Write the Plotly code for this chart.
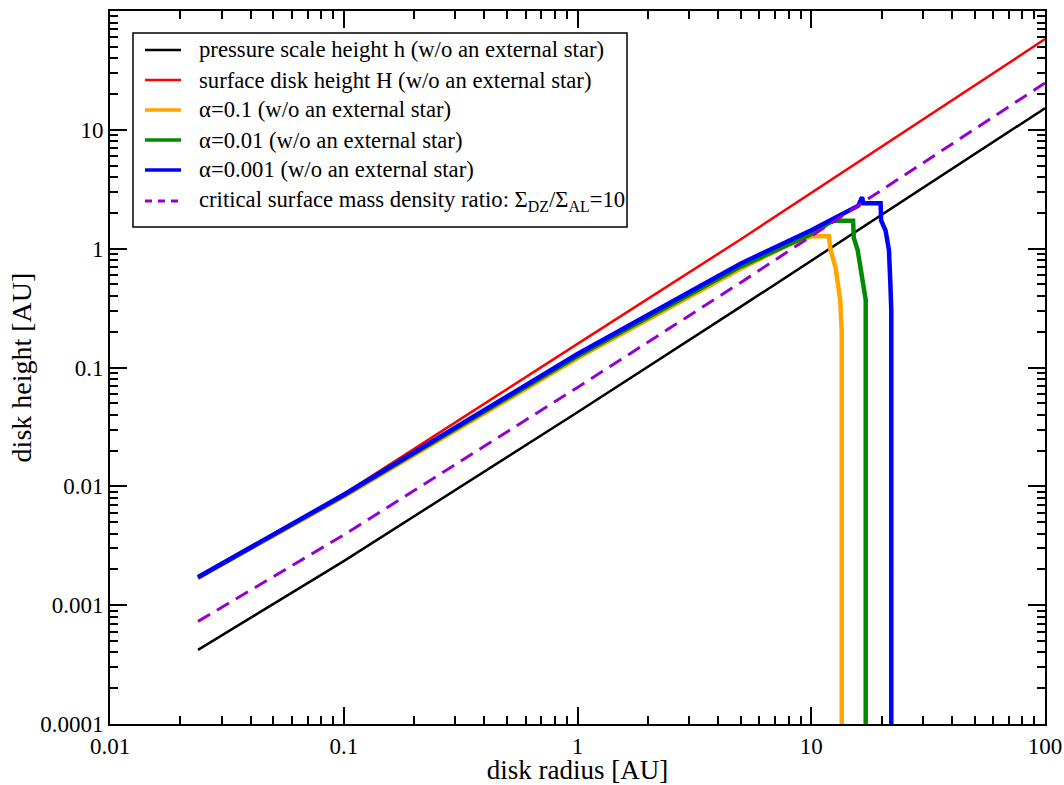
import plotly.graph_objects as go

# values (AU)
r_h = [0.0238, 0.1, 1.0, 5.0, 100]
h = [4.2e-4, 2.35e-3, 0.042, 0.325, 15.2]

r_H = [0.0238, 0.1, 1.0, 5.0, 100]
H_surf = [1.68e-3, 8.6e-3, 0.158, 1.2, 58]

r_crit = [0.0238, 0.1, 1.0, 5.0, 100]
crit = [7.3e-4, 3.9e-3, 0.068, 0.52, 24.8]

r_a1 = [0.0238, 0.1, 1.0, 5.0, 8.0, 10.0, 11.9, 12.1, 12.7, 13.3, 13.5, 13.5]
h_a1 = [1.7e-3, 8.2e-3, 0.12, 0.68, 1.08, 1.27, 1.27, 0.97, 0.70, 0.37, 0.2, 5e-5]

r_a2 = [0.0238, 0.1, 1.0, 5.0, 10.0, 12.4, 15.1, 15.2, 15.8, 16.7, 17.1, 17.1]
h_a2 = [1.72e-3, 8.4e-3, 0.125, 0.71, 1.33, 1.72, 1.72, 1.24, 0.97, 0.51, 0.37, 5e-5]

r_a3 = [0.0238, 0.1, 1.0, 5.0, 10.0, 12.4, 15.2, 15.9, 16.5, 16.7, 19.8, 19.9, 20.8, 21.5, 21.8, 22.0, 22.0]
h_a3 = [1.72e-3, 8.5e-3, 0.13, 0.75, 1.43, 1.78, 2.16, 2.3, 2.71, 2.41, 2.41, 1.73, 1.42, 0.97, 0.51, 0.3, 5e-5]

x_tickvals = [0.01, 0.1, 1, 10, 100]
x_ticktext = ['0.01', '0.1', '1', '10', '100']
y_tickvals = [1e-4, 1e-3, 1e-2, 0.1, 1, 10, 100]
y_ticktext = ['0.0001', '0.001', '0.01', '0.1', '1', '10', '100']

names = ['pressure scale height h (w/o an external star)',
         'surface disk height H (w/o an external star)',
         'α=0.1 (w/o an external star)',
         'α=0.01 (w/o an external star)',
         'α=0.001 (w/o an external star)',
         'critical surface mass density ratio: Σ<sub>DZ</sub>/Σ<sub>AL</sub>=10']
colors = ['black', '#FF0000', '#FFA500', '#008B00', '#0000FF', '#9400D3']
widths = [2.5, 2.5, 4.5, 4.5, 4.5, 3]
dashes = ['solid', 'solid', 'solid', 'solid', 'solid', '14px,8px']

def minor_vals(lo, hi):
    vals = []
    d = lo
    while d < hi:
        for k in range(2, 10):
            vals.append(k * d)
        d *= 10
    return vals

serif = 'Liberation Serif, Times New Roman, serif'

fig = go.Figure()
data = [(r_h, h), (r_H, H_surf), (r_a1, h_a1), (r_a2, h_a2), (r_a3, h_a3), (r_crit, crit)]
for (xs, ys), nm, c, w, d in zip(data, names, colors, widths, dashes):
    fig.add_trace(go.Scatter(x=xs, y=ys, mode='lines', name=nm, showlegend=False,
                             line=dict(color=c, width=w, dash=d)))

axis_common = dict(type='log', showgrid=False, zeroline=False, showline=True, linecolor='black',
                   linewidth=2, mirror='allticks', ticks='inside', ticklen=17, tickwidth=1.5,
                   tickcolor='black', tickmode='array', automargin=False,
                   tickfont=dict(family=serif, size=23, color='black'))

fig.update_xaxes(**axis_common, range=[-2, 2], tickvals=x_tickvals, ticktext=x_ticktext,
                 minor=dict(ticks='inside', ticklen=8, tickwidth=1.5, tickcolor='black',
                            tickmode='array', tickvals=minor_vals(0.01, 100)),
                 title=dict(text='disk radius [AU]', font=dict(family=serif, size=27, color='black'),
                            standoff=5))
fig.update_yaxes(**axis_common, range=[-4, 2], tickvals=y_tickvals, ticktext=y_ticktext,
                 minor=dict(ticks='inside', ticklen=8, tickwidth=1.5, tickcolor='black',
                            tickmode='array', tickvals=minor_vals(1e-4, 100)),
                 title=dict(text='disk height [AU]', font=dict(family=serif, size=28, color='black'),
                            standoff=0))

# legend box drawn by hand (grace-style: tight rows, short samples)
W, Hh = 935.0, 713.0
def px(x):
    return (x - 110) / W
def py(y):
    return (724 - y) / Hh

fig.add_shape(type='rect', xref='paper', yref='paper', x0=px(133), x1=px(627), y0=py(227), y1=py(33),
              line=dict(color='black', width=1.5), fillcolor='white', layer='above')
row_y = [50, 80, 110, 140, 170, 201]
for yy, nm, c, w, d in zip(row_y, names, colors, widths, dashes):
    fig.add_shape(type='line', xref='paper', yref='paper', x0=px(145), x1=px(181), y0=py(yy), y1=py(yy),
                  line=dict(color=c, width=min(w, 3.5), dash='7px,6px' if d != 'solid' else 'solid'),
                  layer='above')
    fig.add_annotation(x=px(197), y=py(yy), xref='paper', yref='paper', text=nm, showarrow=False,
                       xanchor='left', yanchor='middle', align='left',
                       font=dict(family=serif, size=22.7, color='black'))

fig.update_layout(width=1064, height=785, plot_bgcolor='white', paper_bgcolor='white',
                  margin=dict(l=110, r=19, t=11, b=61),
                  font=dict(family=serif, color='black'), showlegend=False)

# the page body has an 8px margin by default; drop it so the figure sits at the corner
fig.write_html("out.html", post_script="document.body.style.margin='0';",
               config={'displayModeBar': False})
